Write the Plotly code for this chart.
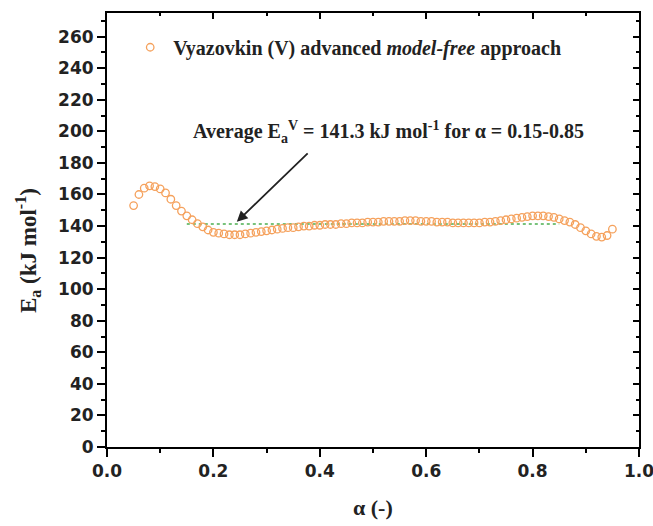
import plotly.graph_objects as go

# ---------------- data ----------------
alpha = [0.05, 0.06, 0.07, 0.08, 0.09, 0.10, 0.11, 0.12, 0.13, 0.14,
         0.15, 0.16, 0.17, 0.18, 0.19, 0.20, 0.21, 0.22, 0.23, 0.24,
         0.25, 0.26, 0.27, 0.28, 0.29, 0.30, 0.31, 0.32, 0.33, 0.34,
         0.35, 0.36, 0.37, 0.38, 0.39, 0.40, 0.41, 0.42, 0.43, 0.44,
         0.45, 0.46, 0.47, 0.48, 0.49, 0.50, 0.51, 0.52, 0.53, 0.54,
         0.55, 0.56, 0.57, 0.58, 0.59, 0.60, 0.61, 0.62, 0.63, 0.64,
         0.65, 0.66, 0.67, 0.68, 0.69, 0.70, 0.71, 0.72, 0.73, 0.74,
         0.75, 0.76, 0.77, 0.78, 0.79, 0.80, 0.81, 0.82, 0.83, 0.84,
         0.85, 0.86, 0.87, 0.88, 0.89, 0.90, 0.91, 0.92, 0.93, 0.94,
         0.95]
Ea = [153.0, 160.0, 164.0, 165.5, 165.0, 163.5, 161.0, 157.0, 153.0, 149.5,
      146.5, 144.0, 141.5, 139.5, 137.5, 136.0, 135.5, 135.0, 134.5, 134.5,
      134.5, 135.0, 135.5, 136.0, 136.5, 137.0, 137.5, 138.0, 138.5, 139.0,
      139.0, 139.5, 140.0, 140.0, 140.5, 140.5, 141.0, 141.0, 141.0, 141.5,
      141.5, 142.0, 142.0, 142.0, 142.5, 142.5, 142.5, 143.0, 143.0, 143.0,
      143.0, 143.5, 143.5, 143.5, 143.0, 143.0, 143.0, 142.5, 142.5, 142.5,
      142.0, 142.0, 142.0, 142.0, 142.0, 142.0, 142.5, 142.5, 143.0, 143.5,
      144.0, 144.5, 145.0, 145.5, 146.0, 146.5, 146.5, 146.5, 146.0, 145.5,
      144.5, 143.5, 142.5, 141.0, 139.0, 137.0, 135.0, 133.5, 133.0, 134.0,
      138.0]

avg_alpha = [0.15, 0.85]
avg_Ea = [141.3, 141.3]

arrow_tip = (0.244, 142.7)
arrow_tail = (0.380, 187.0)

x_ticks = [0.0, 0.2, 0.4, 0.6, 0.8, 1.0]
y_ticks = [0, 20, 40, 60, 80, 100, 120, 140, 160, 180, 200, 220, 240, 260]

series_name = "<b>Vyazovkin (V) advanced <i>model-free</i> approach</b>"
annot_text = "<b>Average E<sub>a</sub><sup>V</sup> = 141.3 kJ mol<sup>-1</sup> for α = 0.15-0.85</b>"
y_title = "<b>E<sub>a</sub> (kJ mol<sup>-1</sup>)</b>"
x_title = "<b>α (-)</b>"

ORANGE = "#F5A15C"
GREEN = "#4CAF50"
SERIF = "Liberation Serif, Times New Roman, serif"
SANS = "DejaVu Sans"

fig = go.Figure()

fig.add_trace(go.Scatter(
    x=avg_alpha, y=avg_Ea, mode="lines",
    line=dict(color=GREEN, width=1.6, dash="dot"),
    showlegend=False, hoverinfo="skip"))

fig.add_trace(go.Scatter(
    x=alpha, y=Ea, mode="markers", name=series_name,
    marker=dict(symbol="circle-open", size=7.5, color=ORANGE,
                line=dict(color=ORANGE, width=1.3))))

# dummy trace to activate mirrored inside-tick axes
fig.add_trace(go.Scatter(x=[None], y=[None], xaxis="x2", yaxis="y2",
                         showlegend=False, hoverinfo="skip"))

axis_common = dict(showline=True, linecolor="black", linewidth=2,
                   showgrid=False, zeroline=False, automargin=False)

fig.update_layout(
    width=653, height=526,
    margin=dict(l=107, r=14, t=13, b=79),
    paper_bgcolor="white", plot_bgcolor="white",
    xaxis=dict(range=[0, 1], tickvals=x_ticks,
               ticktext=[f"{v:.1f}" for v in x_ticks],
               ticks="outside", ticklen=8, tickwidth=2, tickcolor="black",
               ticklabeloverflow="allow",
               minor=dict(ticks="outside", ticklen=4, tickwidth=2,
                          tickcolor="black", dtick=0.1, tick0=0),
               tickfont=dict(family=SANS, size=17, color="#222", weight="bold"),
               **axis_common),
    yaxis=dict(range=[0, 275], tickvals=y_ticks,
               ticks="outside", ticklen=8, tickwidth=2, tickcolor="black",
               minor=dict(ticks="outside", ticklen=4, tickwidth=2,
                          tickcolor="black", dtick=10, tick0=0),
               tickfont=dict(family=SANS, size=17, color="#222", weight="bold"),
               **axis_common),
    xaxis2=dict(range=[0, 1], overlaying="x", side="top", anchor="y2",
                tickvals=x_ticks, showticklabels=False,
                ticks="inside", ticklen=6, tickwidth=2, tickcolor="black",
                minor=dict(ticks="inside", ticklen=3, tickwidth=2,
                           tickcolor="black", dtick=0.1, tick0=0),
                **axis_common),
    yaxis2=dict(range=[0, 275], overlaying="y", side="right", anchor="x2",
                tickvals=y_ticks, showticklabels=False,
                ticks="inside", ticklen=6, tickwidth=2, tickcolor="black",
                minor=dict(ticks="inside", ticklen=3, tickwidth=2,
                           tickcolor="black", dtick=10, tick0=0),
                **axis_common),
    legend=dict(x=0.038, y=0.966, xanchor="left", yanchor="top",
                itemwidth=36,
                bgcolor="rgba(0,0,0,0)",
                font=dict(family=SERIF, size=20, color="#222")),
    showlegend=True,
)

# annotation text with arrow
fig.add_annotation(
    x=0.158, y=0.726, xref="paper", yref="paper",
    xanchor="left", yanchor="middle", showarrow=False,
    text=annot_text, font=dict(family=SERIF, size=20, color="#222"))

fig.add_annotation(
    x=arrow_tip[0], y=arrow_tip[1], xref="x", yref="y",
    ax=arrow_tail[0], ay=arrow_tail[1], axref="x", ayref="y",
    text="", showarrow=True, arrowhead=2, arrowsize=1.2,
    arrowwidth=1.8, arrowcolor="#222")

# axis titles
fig.add_annotation(
    x=-0.148, y=0.452, xref="paper", yref="paper",
    xanchor="center", yanchor="middle", showarrow=False, textangle=-90,
    text=y_title, font=dict(family=SERIF, size=23, color="#222"))

fig.add_annotation(
    x=0.5, y=-0.14, xref="paper", yref="paper",
    xanchor="center", yanchor="middle", showarrow=False,
    text=x_title, font=dict(family=SERIF, size=22, color="#222"))

fig.write_html("out.html")
